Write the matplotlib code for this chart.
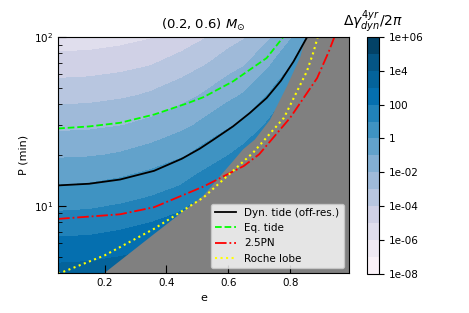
import numpy as np
import matplotlib
matplotlib.use('Agg')
import matplotlib.pyplot as plt

# grid of log10(delta gamma / 2pi)
e_grid = [0.05, 0.15, 0.25, 0.35, 0.45, 0.5, 0.55, 0.6, 0.65, 0.7, 0.75, 0.8, 0.85, 0.9, 0.99]
P_grid = [4, 6, 9, 13, 20, 30, 45, 67, 100]
# rows follow P_grid, columns follow e_grid
dgamma_log = [
    [3.32, 3.38, 3.56, 3.85, 4.33, 4.69, 5.04, 5.44, 5.82, 6.37, 7.05, 7.80, 8.85, 10.23, 15.35],
    [2.20, 2.25, 2.43, 2.73, 3.21, 3.56, 3.91, 4.31, 4.70, 5.25, 5.92, 6.67, 7.72, 9.10, 14.22],
    [1.07, 1.13, 1.31, 1.60, 2.08, 2.43, 2.78, 3.19, 3.57, 4.12, 4.79, 5.54, 6.59, 7.97, 13.09],
    [0.04, 0.10, 0.28, 0.58, 1.06, 1.41, 1.76, 2.16, 2.55, 3.10, 3.77, 4.52, 5.57, 6.95, 12.07],
    [-1.15, -1.09, -0.92, -0.62, -0.14, 0.21, 0.56, 0.97, 1.35, 1.90, 2.57, 3.32, 4.37, 5.75, 10.87],
    [-2.28, -2.22, -2.04, -1.75, -1.27, -0.92, -0.56, -0.16, 0.22, 0.77, 1.45, 2.20, 3.25, 4.63, 9.75],
    [-3.41, -3.35, -3.17, -2.87, -2.39, -2.04, -1.69, -1.29, -0.90, -0.35, 0.32, 1.07, 2.12, 3.50, 8.62],
    [-4.51, -4.45, -4.28, -3.98, -3.50, -3.15, -2.80, -2.39, -2.01, -1.46, -0.79, -0.04, 1.01, 2.39, 7.51],
    [-5.63, -5.57, -5.39, -5.09, -4.61, -4.26, -3.91, -3.51, -3.12, -2.57, -1.90, -1.15, -0.10, 1.28, 6.40],
]

# edge of the region with no data (gray)
gray_e = [0.2, 0.36, 0.52, 0.648, 0.686, 0.735, 0.789, 0.833, 0.85, 0.99]
gray_P = [4.0, 6.8, 11.5, 21.6, 24.7, 32.3, 50.8, 76.2, 100, 100]

# characteristic curves P(e)
dyn_e = [0.05, 0.15, 0.25, 0.36, 0.45, 0.508, 0.55, 0.615, 0.67, 0.724, 0.77, 0.811, 0.855]
dyn_P = [13.2, 13.5, 14.3, 16.1, 19.0, 21.8, 24.5, 29.5, 35.5, 43.5, 55.0, 71.6, 100]
eq_e = [0.05, 0.15, 0.25, 0.36, 0.47, 0.52, 0.615, 0.724, 0.778]
eq_P = [28.7, 29.5, 31.0, 34.7, 40.6, 44.0, 54.5, 75.0, 100]
pn_e = [0.05, 0.25, 0.36, 0.52, 0.65, 0.70, 0.80, 0.887, 0.925, 0.943]
pn_P = [8.36, 8.9, 9.8, 13.0, 17.2, 20.2, 33.2, 57.0, 82.0, 100]
rl_e = [0.05, 0.2, 0.36, 0.52, 0.68, 0.78, 0.854, 0.876, 0.889]
rl_P = [3.95, 5.08, 7.3, 11.2, 20.6, 33.2, 62.5, 82.0, 100]

levels = np.arange(-8, 7)
cbar_ticks = [-8, -6, -4, -2, 0, 2, 4, 6]
cbar_labels = ['1e-08', '1e-06', '1e-04', '1e-02', '1', '100', '1e4', '1e+06']

fig = plt.figure(figsize=(4.69, 3.13), dpi=100)
ax = fig.add_axes([0.124, 0.128, 0.620, 0.754])
cax = fig.add_axes([0.782, 0.125, 0.026, 0.757])

ax.set_facecolor('gray')
cs = ax.contourf(e_grid, P_grid, np.array(dgamma_log), levels=levels, cmap='PuBu')
ax.fill_between(gray_e, 1, gray_P, color='gray', lw=0)

ax.plot(dyn_e, dyn_P, color='k', lw=1.3, label='Dyn. tide (off-res.)')
ax.plot(eq_e, eq_P, color='lime', ls='--', lw=1.3, label='Eq. tide')
ax.plot(pn_e, pn_P, color='red', ls='-.', lw=1.3, label='2.5PN')
ax.plot(rl_e, rl_P, color='yellow', ls=':', lw=1.5, label='Roche lobe')

ax.set_yscale('log')
ax.set_xlim(0.05, 0.99)
ax.set_ylim(4, 100)
ax.set_xticks([0.2, 0.4, 0.6, 0.8])
ax.tick_params(which='both', direction='in', labelsize=7.5)
ax.tick_params(which='major', length=6)
ax.tick_params(which='minor', length=3)
ax.set_xlabel('e', fontsize=8)
ax.set_ylabel('P (min)', fontsize=8)
ax.set_title(r'(0.2, 0.6) $M_{\odot}$', fontsize=9.5)
ax.legend(loc='lower right', fontsize=7.5, framealpha=0.8)

cb = fig.colorbar(cs, cax=cax)
cb.set_ticks(cbar_ticks)
cb.set_ticklabels(cbar_labels)
cb.ax.tick_params(labelsize=7.5)
cax.set_title(r'$\Delta\gamma^{4yr}_{dyn}/2\pi$', fontsize=10, pad=8)

fig.savefig('out.png', dpi=100)
